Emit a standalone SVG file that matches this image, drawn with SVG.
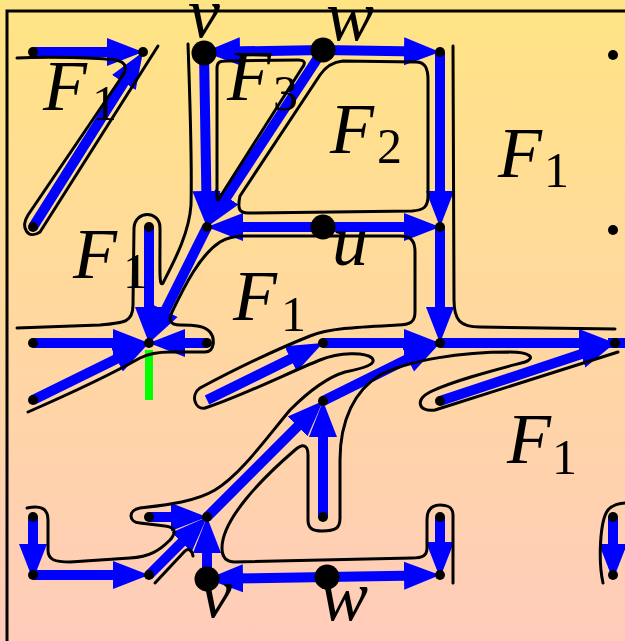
<svg xmlns="http://www.w3.org/2000/svg" width="625" height="641" viewBox="0 0 625 641">
<defs>
<linearGradient id="bg" x1="0" y1="0" x2="0" y2="1">
<stop offset="0" stop-color="#FFE484"/>
<stop offset="1" stop-color="#FFCCBB"/>
</linearGradient>
<marker id="ah" markerUnits="userSpaceOnUse" viewBox="0 -15 40 30" refX="15" refY="0" markerWidth="40" markerHeight="30" orient="auto">
<path d="M0,-14 L36,0 L0,14 z" fill="#0000FF"/>
</marker>
</defs>
<style>
.e{stroke:#0000FF;stroke-width:10;fill:none;marker-end:url(#ah)}
.c{stroke:#000;stroke-width:3;fill:none;stroke-linejoin:round;stroke-linecap:round}
.d{fill:#000}
.lab{font-family:"Liberation Serif","Times New Roman",serif;font-style:italic;font-size:72px;fill:#000}
.sub{font-style:normal;font-size:50px}
</style>
<rect x="0" y="0" width="625" height="641" fill="url(#bg)"/>
<path d="M7,641 L7,11 L625,11" stroke="#000" stroke-width="3" fill="none"/>

<g id="connectors">
<line class="e" x1="33" y1="52" x2="122" y2="52"/>
<line class="e" x1="33" y1="227" x2="131.8" y2="69.8"/>
<line class="e" x1="323" y1="50" x2="225" y2="51.6"/>
<line class="e" x1="323" y1="50" x2="419" y2="51.6"/>
<line class="e" x1="204" y1="52" x2="206.6" y2="206"/>
<line class="e" x1="323" y1="50" x2="218.5" y2="209.4"/>
<line class="e" x1="323" y1="227" x2="228" y2="227"/>
<line class="e" x1="323" y1="227" x2="419" y2="227"/>
<line class="e" x1="440" y1="52" x2="440" y2="206"/>
<line class="e" x1="440" y1="227" x2="440" y2="322"/>
<line class="e" x1="149" y1="227" x2="149" y2="322"/>
<line class="e" x1="207" y1="227" x2="158.4" y2="324.2"/>
<line class="e" x1="33" y1="343" x2="128" y2="343"/>
<line class="e" x1="207" y1="343" x2="170" y2="343"/>
<line class="e" x1="33" y1="400" x2="130.1" y2="352.3"/>
<line class="e" x1="207" y1="400" x2="304.1" y2="352.3"/>
<line class="e" x1="323" y1="343" x2="419" y2="343"/>
<line class="e" x1="440" y1="343" x2="594" y2="343"/>
<line x1="608" y1="343" x2="625" y2="343" stroke="#0000FF" stroke-width="10"/>
<line class="e" x1="440" y1="401" x2="595.1" y2="349.6"/>
<line class="e" x1="149" y1="517" x2="186" y2="517"/>
<line class="e" x1="149" y1="575" x2="192.2" y2="531.8"/>
<line class="e" x1="207" y1="579" x2="207" y2="538"/>
<line class="e" x1="207" y1="517" x2="308.2" y2="415.8"/>
<line class="e" x1="323" y1="517" x2="323" y2="422"/>
<line class="e" x1="323" y1="401" x2="421.2" y2="352.3"/>
<line class="e" x1="33" y1="517" x2="33" y2="559"/>
<line class="e" x1="33" y1="575" x2="128" y2="575"/>
<line class="e" x1="327" y1="577" x2="228" y2="578.6"/>
<line class="e" x1="327" y1="577" x2="419" y2="575.4"/>
<line class="e" x1="440" y1="517" x2="440" y2="557"/>
<line class="e" x1="613" y1="517" x2="613" y2="559"/>
<line x1="149" y1="350" x2="149" y2="400" stroke="#00FF00" stroke-width="8"/>
</g>

<g id="faces">
<path class="c" d="M17,58 C50,56 100,58 115,60 C128,62 127,70 121,78 L28,215 C20,228 28,240 40,232 L158,46"/>
<path class="c" d="M188,44 C190,100 192,170 191,205 C189,235 172,265 163,283 C159,288 160,270 160,240 L160,228 C160,210 135,210 134,228 L133,305 C133,322 125,323 100,325 L17,328"/>
<path class="c" d="M217,198 L217,68 C217,62 220,61 226,61 L298,60 C305,60 306,63 302,68 L220,197 C219,200 217,201 217,198 Z"/>
<path class="c" d="M240,196 L320,75 C326,66 333,62 343,61 L416,62 C425,62 428,68 428,80 L428,196 C428,207 424,210 412,211 L248,213 C240,213 237,210 240,196 Z"/>
<path class="c" d="M453,46 L454,300 C454,320 460,327 480,327 L615,329"/>
<path class="c" d="M28,412 C60,398 110,375 140,358 C150,353 160,352 170,352 L205,352 C215,352 215,338 210,332 C205,326 195,325 180,325 C170,325 168,320 172,312 C185,285 200,255 220,242 C228,237 235,236 245,236 L400,236 C412,236 415,242 415,252 L415,312 C415,322 410,325 398,325 C360,327 330,328 310,336 C270,352 230,372 200,388 C190,395 195,410 205,408 C240,397 290,372 320,360 C340,352 365,352 372,358 C377,364 365,368 345,372 C325,378 305,395 290,410 C265,440 240,475 215,490 C195,502 165,505 140,508 C128,510 128,522 140,523 L165,526 C175,527 177,532 170,540 C160,550 150,557 130,558 L70,562 C55,562 48,560 48,550 L48,520 C48,508 40,505 27,508"/>
<path class="c" d="M155,583 L184,552 C188,547 192,550 193,556"/>
<path class="c" d="M453,583 L453,515 C453,507 448,505 440,505 C431,505 427,510 427,520 L427,548 C427,556 422,558 412,558 L235,562 C226,562 222,557 222,548 C222,520 260,480 295,450 C303,443 308,445 308,455 L308,520 C308,528 312,531 322,531 C336,531 340,528 340,518 L340,460 C340,420 355,390 380,375 C410,360 460,352 510,352 C530,352 536,358 525,362 C495,370 455,380 430,392 C415,400 418,412 435,410 L618,352"/>
<path class="c" d="M603,583 C598,560 600,520 608,510 C612,505 620,503 625,503"/>
</g>

<g id="nodes">
<circle class="d" cx="33" cy="52" r="5"/>
<circle class="d" cx="143" cy="52" r="5"/>
<circle class="d" cx="440" cy="52" r="5"/>
<circle class="d" cx="613" cy="55" r="5"/>
<circle class="d" cx="33" cy="227" r="5"/>
<circle class="d" cx="149" cy="227" r="5"/>
<circle class="d" cx="207" cy="227" r="5"/>
<circle class="d" cx="440" cy="227" r="5"/>
<circle class="d" cx="613" cy="230" r="5"/>
<circle class="d" cx="33" cy="343" r="5"/>
<circle class="d" cx="149" cy="343" r="5"/>
<circle class="d" cx="207" cy="343" r="5"/>
<circle class="d" cx="323" cy="343" r="5"/>
<circle class="d" cx="440" cy="343" r="5"/>
<circle class="d" cx="615" cy="343" r="5"/>
<circle class="d" cx="33" cy="400" r="5"/>
<circle class="d" cx="323" cy="401" r="5"/>
<circle class="d" cx="440" cy="401" r="5"/>
<circle class="d" cx="33" cy="517" r="5"/>
<circle class="d" cx="149" cy="517" r="5"/>
<circle class="d" cx="207" cy="517" r="5"/>
<circle class="d" cx="323" cy="517" r="5"/>
<circle class="d" cx="440" cy="517" r="5"/>
<circle class="d" cx="613" cy="517" r="5"/>
<circle class="d" cx="33" cy="575" r="5"/>
<circle class="d" cx="149" cy="575" r="5"/>
<circle class="d" cx="440" cy="575" r="5"/>
<circle class="d" cx="613" cy="575" r="5"/>
<g id="v-top"><circle class="d" cx="204" cy="53" r="12.5"/><text class="lab" x="188" y="37">v</text></g>
<g id="w-top"><circle class="d" cx="323" cy="50" r="12.5"/><text class="lab" x="326" y="40">w</text></g>
<g id="u"><circle class="d" cx="323" cy="227" r="12.5"/><text class="lab" x="332" y="265">u</text></g>
<g id="v-bot"><circle class="d" cx="207" cy="579" r="12.5"/><text class="lab" x="200" y="617">v</text></g>
<g id="w-bot"><circle class="d" cx="327" cy="577" r="12.5"/><text class="lab" x="320" y="620">w</text></g>
</g>

<g id="labels">
<text class="lab" x="43" y="110">F<tspan class="sub" x="92" y="120">1</tspan></text>
<text class="lab" x="227" y="100">F<tspan class="sub" x="273" y="110">3</tspan></text>
<text class="lab" x="330" y="153">F<tspan class="sub" x="377" y="163">2</tspan></text>
<text class="lab" x="498" y="177">F<tspan class="sub" x="544" y="187">1</tspan></text>
<text class="lab" x="73" y="278">F<tspan class="sub" x="123" y="288">1</tspan></text>
<text class="lab" x="233" y="320">F<tspan class="sub" x="281" y="331">1</tspan></text>
<text class="lab" x="507" y="463">F<tspan class="sub" x="552" y="474">1</tspan></text>
</g>
</svg>
